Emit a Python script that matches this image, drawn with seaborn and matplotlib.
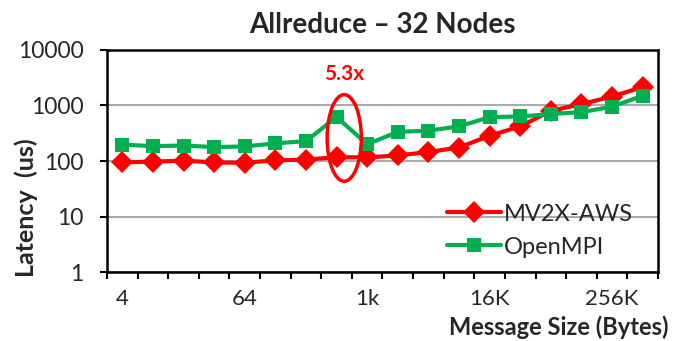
import numpy as np
import pandas as pd
import matplotlib
matplotlib.use("Agg")
import matplotlib.pyplot as plt
from matplotlib.patches import Ellipse
import seaborn as sns

# dados
tamanhos = ['4', '8', '16', '32', '64', '128', '256', '512', '1k', '2k', '4k', '8k',
            '16K', '32K', '64K', '128K', '256K', '512K']
mv2x_aws = [95, 97, 102, 94, 93, 103, 106, 117, 116, 126, 145, 175,
            285, 420, 800, 1060, 1450, 2150]
openmpi = [198, 185, 190, 178, 183, 208, 228, 620, 200, 335, 352, 420,
           617, 635, 700, 760, 950, 1500]
rotulos_x = {0: '4', 4: '64', 8: '1k', 12: '16K', 16: '256K'}
series = ['MV2X-AWS', 'OpenMPI']

dados = pd.DataFrame({
    'pos': list(range(len(tamanhos))) * 2,
    'Latency': mv2x_aws + openmpi,
    'Serie': [series[0]] * len(tamanhos) + [series[1]] * len(tamanhos),
})

sns.set_style("white")
plt.rcParams['font.family'] = ['Lato', 'DejaVu Sans']

fig = plt.figure(figsize=(6.79, 3.41), dpi=100)
ax = fig.add_axes([0.1576, 0.2023, 0.9690 - 0.1576, 0.8534 - 0.2023])

sns.lineplot(data=dados, x='pos', y='Latency', hue='Serie', style='Serie',
             palette={series[0]: '#FF0000', series[1]: '#00B050'},
             markers={series[0]: 'D', series[1]: 's'}, dashes=False,
             linewidth=3, markersize=10, markeredgewidth=0, legend=False, ax=ax)

linhas = ax.get_lines()[:2]
linhas[0].set_markersize(11.5)
linhas[1].set_markersize(10)

ax.set_yscale('log')
ax.set_ylim(1, 10000)
ax.set_xlim(-0.5, len(tamanhos) - 0.5)
ax.set_yticks([1, 10, 100, 1000, 10000])
ax.set_yticklabels(['1', '10', '100', '1000', '10000'])
ax.yaxis.set_minor_locator(matplotlib.ticker.NullLocator())
ax.grid(axis='y', which='major', color='#999999', linewidth=1.2)
ax.tick_params(axis='y', which='major', left=True, length=5, width=1.5,
               labelsize=16.5, pad=12, color='black')

# ticks nas fronteiras das categorias, rótulos no centro
ax.set_xticks(np.arange(-0.5, len(tamanhos), 1.0))
ax.set_xticklabels([])
ax.set_xticks(list(rotulos_x.keys()), minor=True)
ax.set_xticklabels(list(rotulos_x.values()), minor=True)
ax.tick_params(axis='x', which='major', bottom=True, length=5, width=1.5, color='black')
ax.tick_params(axis='x', which='minor', bottom=True, length=0, labelsize=16, pad=12.5)

for s in ax.spines.values():
    s.set_color('black')
    s.set_linewidth(1.8)

ax.set_title('Allreduce – 32 Nodes', fontsize=20, fontweight='bold', pad=12)
ax.set_ylabel('Latency  (us)', fontsize=18, fontweight='bold')
ax.yaxis.set_label_coords(-0.125, 0.29)
ax.set_xlabel('Message Size (Bytes)', fontsize=17, fontweight='bold', va='bottom')
ax.xaxis.set_label_coords(0.82, -0.303)

# destaque em 512 bytes
i = tamanhos.index('512')
cx, cy = ax.transAxes.inverted().transform(ax.transData.transform((i + 0.25, 260)))
ax.add_patch(Ellipse((cx, cy), 0.062, 0.39, transform=ax.transAxes,
                     fill=False, edgecolor='#FF0000', linewidth=2.5, zorder=5))
ax.text(i + 0.25, 3700, '5.3x', color='#FF0000', fontsize=15, fontweight='bold',
        ha='center', va='center')

ax.legend(linhas, series, loc='upper left', bbox_to_anchor=(0.6, 0.35),
          frameon=False, fontsize=17, handlelength=2.3, handletextpad=0.1,
          labelspacing=0.5, borderaxespad=0)

fig.savefig('out.png', dpi=100)
